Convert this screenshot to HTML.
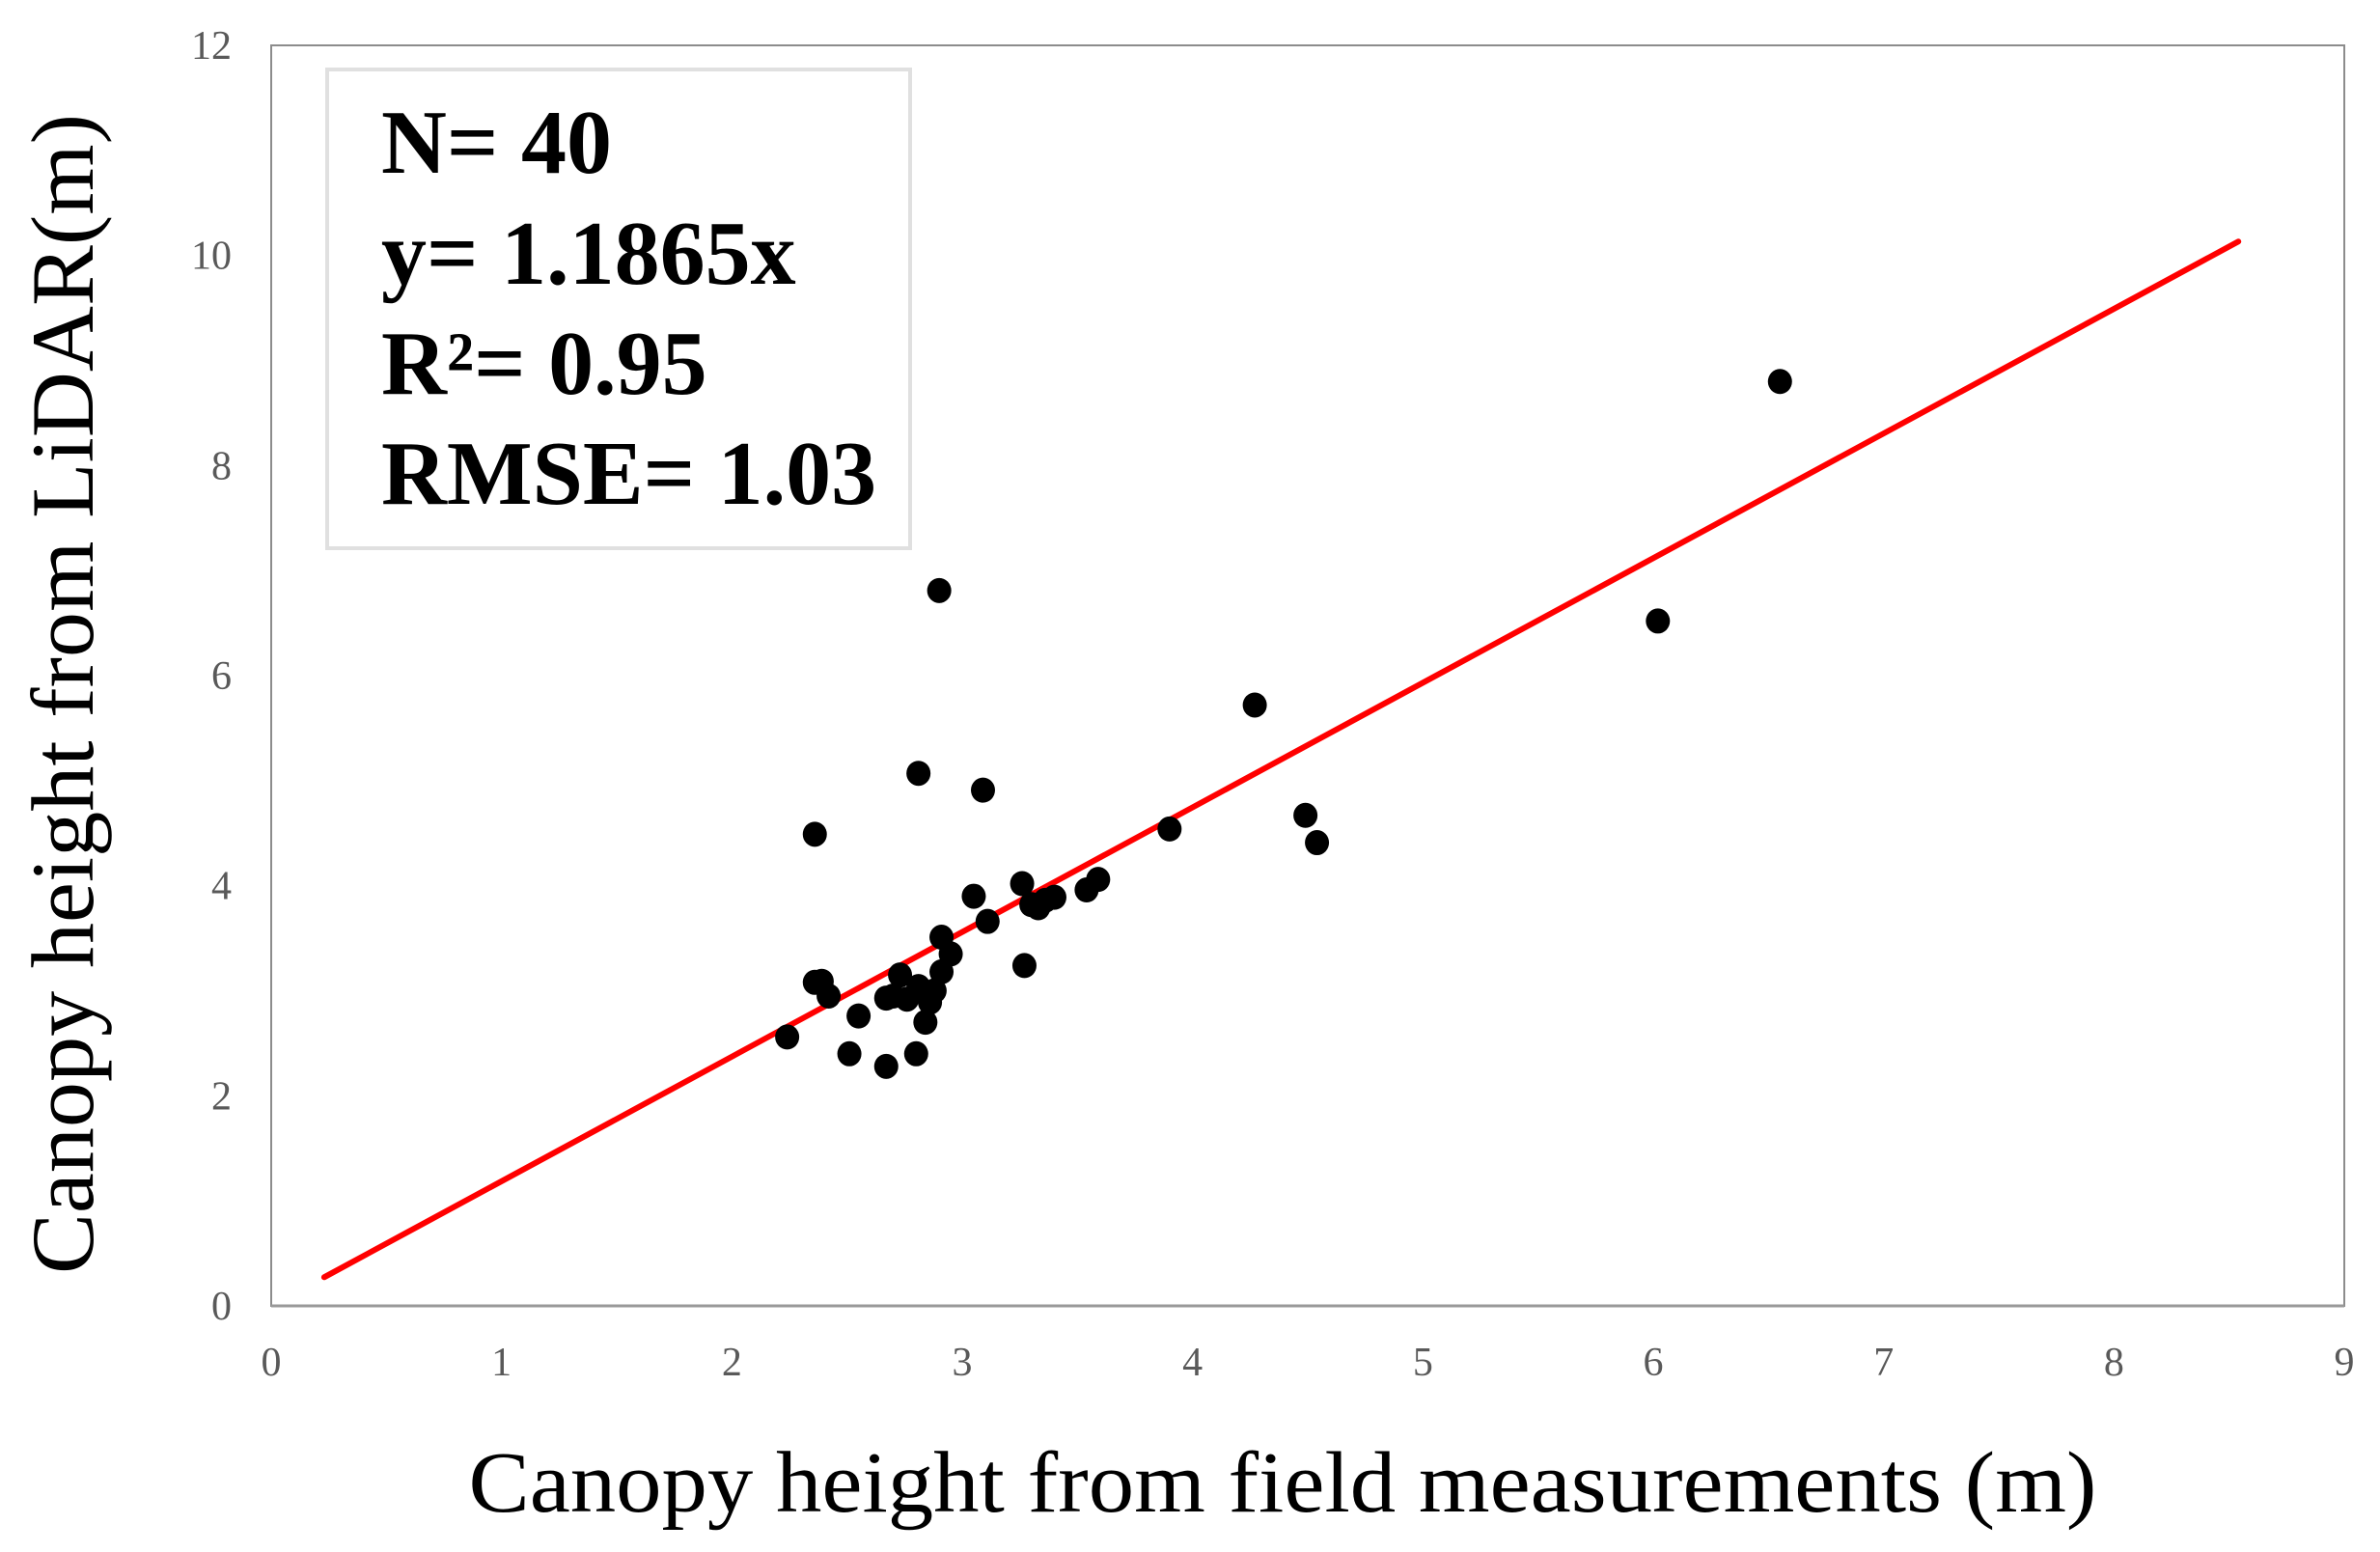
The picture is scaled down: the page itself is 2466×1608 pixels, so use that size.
<!DOCTYPE html>
<html><head><meta charset="utf-8"><style>html,body{margin:0;padding:0;background:#fff}svg{display:block}</style></head>
<body>
<svg id="chart" width="2466" height="1608" viewBox="0 0 2466 1608" xmlns="http://www.w3.org/2000/svg" font-family="'Liberation Serif', serif">
<rect x="0" y="0" width="2466" height="1608" fill="#fff"/>
<rect x="281" y="47" width="2148" height="1306" fill="none" stroke="#8c8c8c" stroke-width="2"/>
<line x1="281" y1="1353" x2="2429" y2="1353" stroke="#999" stroke-width="3"/>
<g id="yticks"></g>
<g id="xticks"></g>
<g id="fit"></g>
<g id="points"></g>
<rect x="339" y="72" width="604" height="496" fill="#fff" stroke="#e0e0e0" stroke-width="4"/>
<g font-weight="bold" font-size="94" fill="#000">
<text x="395" y="179">N= 40</text>
<text x="395" y="294">y= 1.1865x</text>
<text x="395" y="408">R²= 0.95</text>
<text x="395" y="522">RMSE= 1.03</text>
</g>
<text x="1329" y="1566" text-anchor="middle" font-size="90" textLength="1687" lengthAdjust="spacingAndGlyphs">Canopy height from field measurements (m)</text>
<text transform="translate(96,719) rotate(-90)" text-anchor="middle" font-size="92" textLength="1202" lengthAdjust="spacingAndGlyphs">Canopy height from LiDAR(m)</text>
</svg>
<script>
const xTicks = [0,1,2,3,4,5,6,7,8,9];
const yTicks = [0,2,4,6,8,10,12];
const slope = 1.1865;
const fitRange = [0.23, 8.54];
const xs = [6.55,6.02,2.90,4.27,2.81,3.09,2.36,3.90,4.49,4.54,3.05,3.26,3.40,3.33,3.36,3.54,3.59,3.11,2.91,2.95,2.91,3.27,2.73,2.36,2.39,2.42,2.67,2.76,2.84,2.86,2.81,2.55,2.84,2.24,2.51,2.80,2.67,2.88,2.70,3.30];
const ys = [8.80,6.52,6.81,5.72,5.07,4.91,4.49,4.54,4.67,4.41,3.90,4.02,3.89,3.79,3.86,3.96,4.06,3.66,3.51,3.35,3.18,3.24,3.15,3.08,3.09,2.95,2.93,2.92,2.98,2.89,3.04,2.76,2.70,2.56,2.40,2.40,2.28,3.00,2.95,3.82];
const NS='http://www.w3.org/2000/svg';
const X = v => 281 + v*238.67;
const Y = v => 1353 - v*108.83;
function mk(tag, attrs){const e=document.createElementNS(NS,tag);for(const k in attrs)e.setAttribute(k,attrs[k]);return e;}
const yg=document.getElementById('yticks');
yTicks.forEach(t=>{const e=mk('text',{x:240,y:Y(t)+14,'text-anchor':'end','font-size':42,fill:'#595959'});


e.textContent=t;yg.appendChild(e);});
const xg=document.getElementById('xticks');
xTicks.forEach(t=>{const e=mk('text',{x:X(t),y:1425,'text-anchor':'middle','font-size':42,fill:'#595959'});


e.textContent=t;xg.appendChild(e);});
const fl=mk('line',{x1:X(fitRange[0]),y1:Y(fitRange[0]*slope),x2:X(fitRange[1]),y2:Y(fitRange[1]*slope),stroke:'#ff0000','stroke-width':6,'stroke-linecap':'round'});


document.getElementById('fit').appendChild(fl);
const pg=document.getElementById('points');
xs.forEach((x,i)=>{const c=mk('ellipse',{cx:X(x),cy:Y(ys[i]),rx:12.5,ry:13,fill:'#000'});


pg.appendChild(c);});
</script>
</body></html>
